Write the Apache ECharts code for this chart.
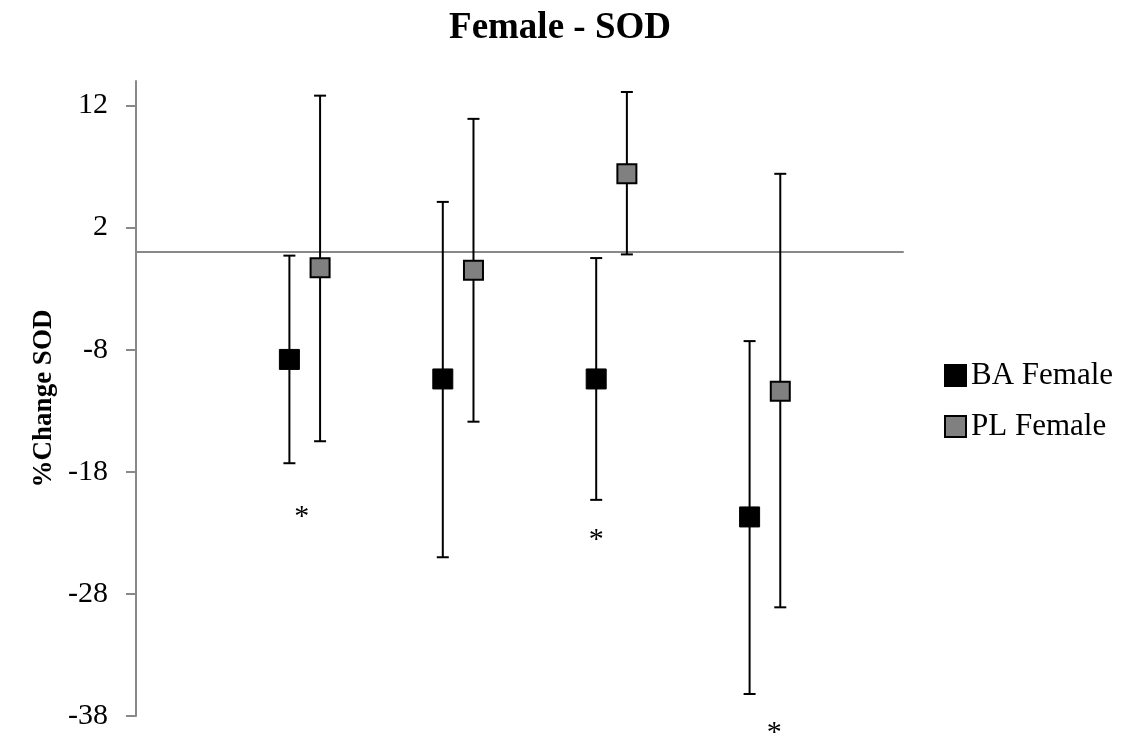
<!DOCTYPE html>
<html>
<head>
<meta charset="utf-8">
<script src="https://cdn.jsdelivr.net/npm/echarts@6/dist/echarts.min.js"></script>
<style>
  html, body { margin: 0; padding: 0; background: #fff; }
  #chart { width: 1128px; height: 742px; }
</style>
</head>
<body>
<div id="chart"></div>
<script>
// group positions on the (hidden) x axis
let groups = [1, 2, 3, 4];
let plOffset = 0.2;

// BA Female: mean and error bar ends
let baMean = [-8.8, -10.4, -10.4, -21.7];
let baUpper = [-0.3, 4.1, -0.5, -7.3];
let baLower = [-17.3, -25.0, -20.3, -36.2];

// PL Female: mean and error bar ends
let plMean = [-1.3, -1.5, 6.4, -11.4];
let plUpper = [12.8, 10.9, 13.1, 6.4];
let plLower = [-15.5, -13.9, -0.2, -29.1];

// significance stars
let starX = [1.08, 3.0, 4.16];
let starY = [-21.3, -23.2, -39.0];

let yTicks = [-38, -28, -18, -8, 2, 12];

let font = "'Liberation Serif', 'Times New Roman', serif";

let chart = echarts.init(document.getElementById('chart'));

let baPoints = groups.map((g, i) => [g, baMean[i]]);
let plPoints = groups.map((g, i) => [g + plOffset, plMean[i]]);
let bars = groups.map((g, i) => [g, baLower[i], baUpper[i]])
    .concat(groups.map((g, i) => [g + plOffset, plLower[i], plUpper[i]]));
let stars = starX.map((x, i) => [x, starY[i]]);

function drawBar(params, api) {
    let x = api.value(0);
    let top = api.coord([x, api.value(2)]);
    let bot = api.coord([x, api.value(1)]);
    let st = {stroke: '#000', lineWidth: 2};
    return {
        type: 'group',
        children: [
            {type: 'line', shape: {x1: top[0], y1: top[1], x2: bot[0], y2: bot[1]}, style: st},
            {type: 'line', shape: {x1: top[0] - 6, y1: top[1], x2: top[0] + 6, y2: top[1]}, style: st},
            {type: 'line', shape: {x1: bot[0] - 6, y1: bot[1], x2: bot[0] + 6, y2: bot[1]}, style: st}
        ]
    };
}

function drawStar(params, api) {
    let p = api.coord([api.value(0), api.value(1)]);
    return {
        type: 'text',
        x: p[0],
        y: p[1] + 5,
        style: {text: '*', fontSize: 30, fontFamily: font, fill: '#000', align: 'center', verticalAlign: 'middle'}
    };
}

let option = {
    animation: false,
    title: {
        text: 'Female - SOD',
        left: 555,
        textAlign: 'center',
        top: 5,
        textStyle: {fontFamily: font, fontWeight: 'bold', fontSize: 37, color: '#000'}
    },
    legend: {
        orient: 'vertical',
        left: 944,
        top: 360,
        padding: 0,
        itemWidth: 21,
        itemHeight: 21,
        itemGap: 20,
        icon: 'rect',
        data: ['BA Female', 'PL Female'],
        textStyle: {fontFamily: font, fontSize: 31, color: '#000', lineHeight: 31}
    },
    grid: {left: 136, right: 225, top: 81, bottom: 26, containLabel: false},
    xAxis: {
        type: 'value',
        min: 0,
        max: 5,
        axisLine: {show: true, onZero: true, lineStyle: {color: '#888', width: 2}},
        axisTick: {show: false},
        axisLabel: {show: false},
        splitLine: {show: false}
    },
    yAxis: {
        type: 'value',
        min: -38,
        max: 14,
        name: '%Change SOD',
        nameLocation: 'middle',
        nameRotate: 90,
        nameGap: 72,
        nameTextStyle: {fontFamily: font, fontWeight: 'bold', fontSize: 27, color: '#000'},
        axisLine: {show: true, lineStyle: {color: '#888', width: 2}},
        axisTick: {show: true, length: 10, customValues: yTicks, lineStyle: {color: '#888', width: 2}},
        axisLabel: {customValues: yTicks, margin: 28, fontFamily: font, fontSize: 30, color: '#000'},
        splitLine: {show: false}
    },
    series: [
        {
            type: 'custom',
            name: 'bars',
            data: bars,
            renderItem: drawBar,
            clip: false,
            z: 1
        },
        {
            type: 'scatter',
            name: 'BA Female',
            data: baPoints,
            symbol: 'rect',
            symbolSize: 20,
            itemStyle: {color: '#000', borderColor: '#000', borderWidth: 1, opacity: 1},
            z: 3
        },
        {
            type: 'scatter',
            name: 'PL Female',
            data: plPoints,
            symbol: 'rect',
            symbolSize: 19,
            itemStyle: {color: '#808080', borderColor: '#000', borderWidth: 2, opacity: 1},
            z: 3
        },
        {
            type: 'custom',
            name: 'stars',
            data: stars,
            renderItem: drawStar,
            clip: false,
            z: 3
        }
    ]
};

chart.setOption(option);
</script>
</body>
</html>
